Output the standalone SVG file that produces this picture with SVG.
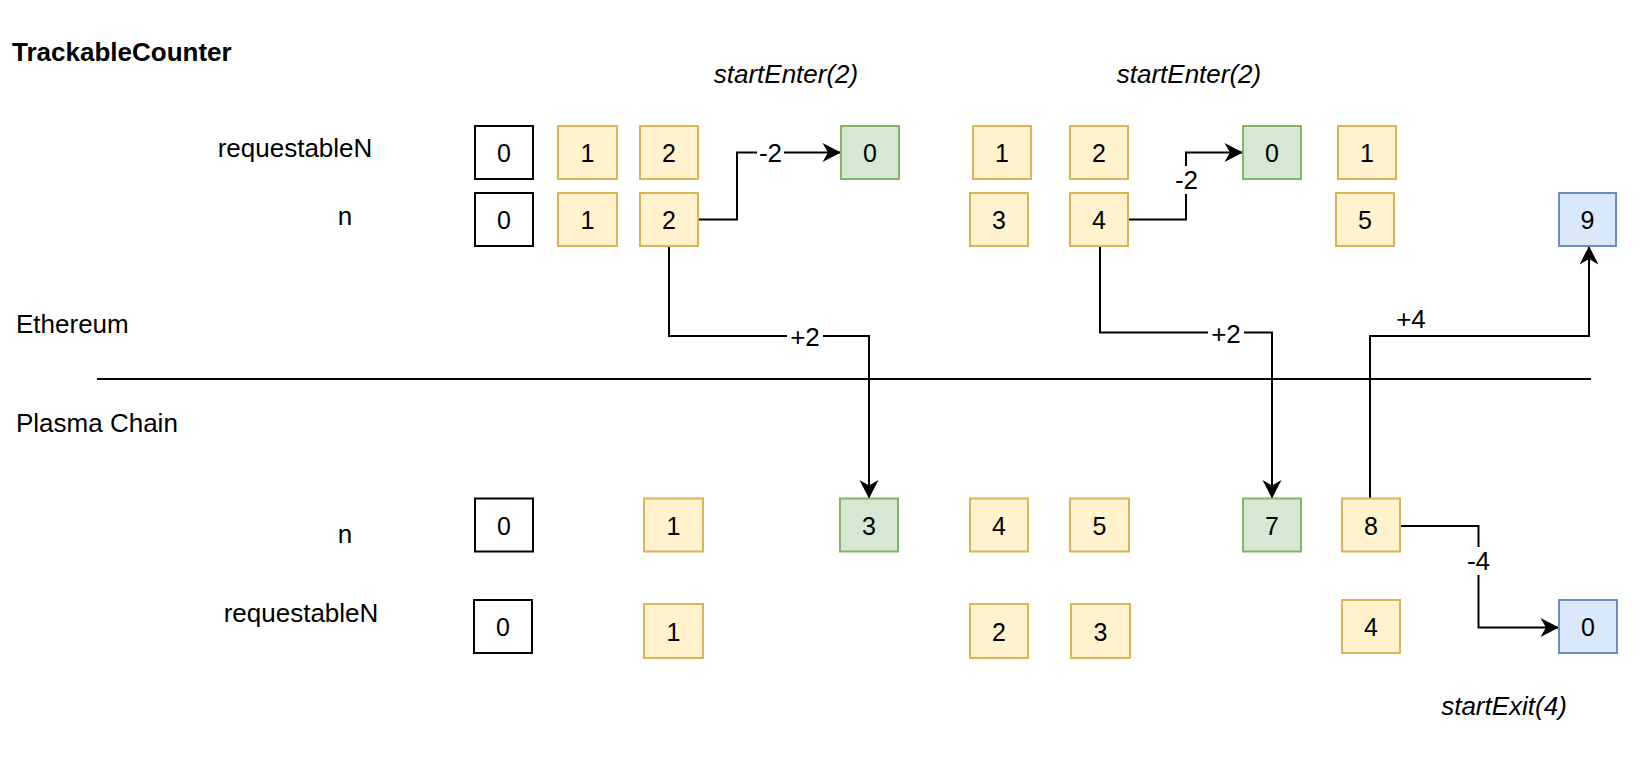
<svg xmlns="http://www.w3.org/2000/svg" width="1652" height="762" viewBox="0 0 1652 762">
<style>
text{font-family:"Liberation Sans",Arial,sans-serif;font-size:26px;fill:#000}
.d{font-size:25px}
.c{text-anchor:middle}
.b{font-weight:bold}
.i{font-style:italic}
.k{fill:#fff;stroke:#000;stroke-width:2}
.y{fill:#fff2cc;stroke:#d6b656;stroke-width:2}
.g{fill:#d5e8d4;stroke:#82b366;stroke-width:2}
.u{fill:#dae8fc;stroke:#6c8ebf;stroke-width:2}
.e{fill:none;stroke:#000;stroke-width:2}
.bg{fill:#fff}
</style>
<defs>
<marker id="arr" markerUnits="userSpaceOnUse" viewBox="0 0 20 20" markerWidth="20" markerHeight="20" refX="19" refY="10" orient="auto">
<path d="M0.5,0.5 L19,10 L0.5,19.5 L6,10 Z" fill="#000"/>
</marker>
</defs>
<rect width="1652" height="762" fill="#fff"/>
<g id="labels">
<text x="12" y="61" class="b">TrackableCounter</text>
<text x="295" y="157" class="c">requestableN</text>
<text x="345" y="225" class="c">n</text>
<text x="16" y="333">Ethereum</text>
<text x="16" y="432">Plasma Chain</text>
<text x="345" y="543" class="c">n</text>
<text x="301" y="622" class="c">requestableN</text>
<text x="786" y="83" class="c i">startEnter(2)</text>
<text x="1189" y="83" class="c i">startEnter(2)</text>
<text x="1504" y="715" class="c i">startExit(4)</text>
</g>
<g id="divider"><line x1="97" y1="379" x2="1591" y2="379" class="e"/></g>
<g id="connectors">
<path d="M698,219.5 H737 V152.5 H841" class="e" marker-end="url(#arr)"/>
<path d="M669,246 V336 H869 V498.5" class="e" marker-end="url(#arr)"/>
<path d="M1128,219.5 H1186 V152.5 H1243" class="e" marker-end="url(#arr)"/>
<path d="M1100,246 V332.5 H1272 V498.5" class="e" marker-end="url(#arr)"/>
<path d="M1370,498.5 V336 H1589 V246" class="e" marker-end="url(#arr)"/>
<path d="M1400,526 H1478.5 V627.5 H1559" class="e" marker-end="url(#arr)"/>
<rect x="757" y="140" width="27" height="24" class="bg"/>
<text x="770.5" y="161.5" class="c">-2</text>
<rect x="1172" y="166" width="29" height="28" class="bg"/>
<text x="1186.5" y="189" class="c">-2</text>
<rect x="787" y="324" width="36" height="24" class="bg"/>
<text x="805" y="346" class="c">+2</text>
<rect x="1208" y="321" width="36" height="24" class="bg"/>
<text x="1226" y="343" class="c">+2</text>
<text x="1411" y="328" class="c">+4</text>
<rect x="1464" y="547" width="29" height="28" class="bg"/>
<text x="1478.5" y="570" class="c">-4</text>
</g>
<g id="eth-requestableN">
<g id="ern0"><rect x="475" y="126" width="58" height="53" class="k"/><text x="504" y="162" class="c d">0</text></g>
<g id="ern1"><rect x="558" y="126" width="59" height="53" class="y"/><text x="587.5" y="162" class="c d">1</text></g>
<g id="ern2"><rect x="640" y="126" width="58" height="53" class="y"/><text x="669" y="162" class="c d">2</text></g>
<g id="ern3"><rect x="841" y="126" width="58" height="53" class="g"/><text x="870" y="162" class="c d">0</text></g>
<g id="ern4"><rect x="973" y="126" width="58" height="53" class="y"/><text x="1002" y="162" class="c d">1</text></g>
<g id="ern5"><rect x="1070" y="126" width="58" height="53" class="y"/><text x="1099" y="162" class="c d">2</text></g>
<g id="ern6"><rect x="1243" y="126" width="58" height="53" class="g"/><text x="1272" y="162" class="c d">0</text></g>
<g id="ern7"><rect x="1338" y="126" width="58" height="53" class="y"/><text x="1367" y="162" class="c d">1</text></g>
</g>
<g id="eth-n">
<g id="en0"><rect x="475" y="193" width="58" height="53" class="k"/><text x="504" y="229" class="c d">0</text></g>
<g id="en1"><rect x="558" y="193" width="59" height="53" class="y"/><text x="587.5" y="229" class="c d">1</text></g>
<g id="en2"><rect x="640" y="193" width="58" height="53" class="y"/><text x="669" y="229" class="c d">2</text></g>
<g id="en3"><rect x="970" y="193" width="58" height="53" class="y"/><text x="999" y="229" class="c d">3</text></g>
<g id="en4"><rect x="1070" y="193" width="58" height="53" class="y"/><text x="1099" y="229" class="c d">4</text></g>
<g id="en5"><rect x="1336" y="193" width="58" height="53" class="y"/><text x="1365" y="229" class="c d">5</text></g>
<g id="en6"><rect x="1559" y="193" width="57" height="53" class="u"/><text x="1587.5" y="229" class="c d">9</text></g>
</g>
<g id="plasma-n">
<g id="pn0"><rect x="475" y="498.5" width="58" height="53" class="k"/><text x="504" y="534.5" class="c d">0</text></g>
<g id="pn1"><rect x="644" y="498.5" width="59" height="53" class="y"/><text x="673.5" y="534.5" class="c d">1</text></g>
<g id="pn2"><rect x="840" y="498.5" width="58" height="53" class="g"/><text x="869" y="534.5" class="c d">3</text></g>
<g id="pn3"><rect x="970" y="498.5" width="58" height="53" class="y"/><text x="999" y="534.5" class="c d">4</text></g>
<g id="pn4"><rect x="1070" y="498.5" width="59" height="53" class="y"/><text x="1099.5" y="534.5" class="c d">5</text></g>
<g id="pn5"><rect x="1243" y="498.5" width="58" height="53" class="g"/><text x="1272" y="534.5" class="c d">7</text></g>
<g id="pn6"><rect x="1342" y="498.5" width="58" height="53" class="y"/><text x="1371" y="534.5" class="c d">8</text></g>
</g>
<g id="plasma-requestableN">
<g id="prn0"><rect x="474" y="600" width="58" height="53" class="k"/><text x="503" y="636" class="c d">0</text></g>
<g id="prn1"><rect x="644" y="604" width="59" height="54" class="y"/><text x="673.5" y="640.5" class="c d">1</text></g>
<g id="prn2"><rect x="970" y="604" width="58" height="54" class="y"/><text x="999" y="640.5" class="c d">2</text></g>
<g id="prn3"><rect x="1071" y="604" width="59" height="54" class="y"/><text x="1100.5" y="640.5" class="c d">3</text></g>
<g id="prn4"><rect x="1342" y="600" width="58" height="53" class="y"/><text x="1371" y="636" class="c d">4</text></g>
<g id="prn5"><rect x="1559" y="600" width="58" height="53" class="u"/><text x="1588" y="636" class="c d">0</text></g>
</g>
</svg>
